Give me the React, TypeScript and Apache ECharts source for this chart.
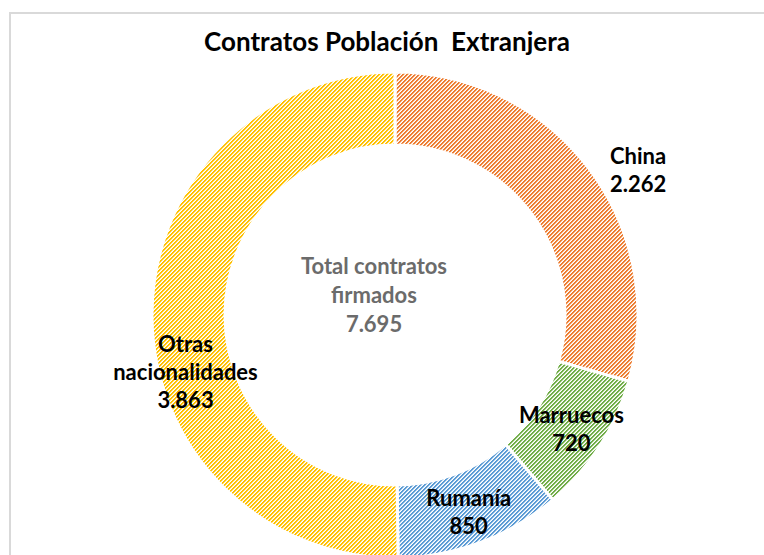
import React, { useEffect, useRef } from "react";
import * as echarts from "echarts";

const categories = ["China", "Marruecos", "Rumanía", "Otras nacionalidades"];
const values = [2262, 720, 850, 3863];
const colors = ["#ED7D31", "#70AD47", "#5B9BD5", "#FFC000"];
const titleText = "Contratos Población  Extranjera";
const centerLabel = "Total contratos\nfirmados";

const fmt = (v: number) => String(v).replace(/\B(?=(\d{3})+(?!\d))/g, ".");

function makePattern(color: string) {
  const s = 4;
  const c = document.createElement("canvas");
  c.width = s;
  c.height = s;
  const ctx = c.getContext("2d")!;
  ctx.fillStyle = "#ffffff";
  ctx.fillRect(0, 0, s, s);
  for (let y = 0; y < s; y++) {
    for (let x = 0; x < s; x++) {
      const m = (x + y) % s;
      if (m === 0 || m === 1) {
        ctx.globalAlpha = 1;
        ctx.fillStyle = color;
        ctx.fillRect(x, y, 1, 1);
      } else if (m === 2) {
        ctx.globalAlpha = 0.3;
        ctx.fillStyle = color;
        ctx.fillRect(x, y, 1, 1);
      }
    }
  }
  ctx.globalAlpha = 1;
  return c;
}

export default function App() {
  const ref = useRef<HTMLDivElement>(null);
  useEffect(() => {
    if (!ref.current) return;
    const chart = echarts.init(ref.current, undefined, { renderer: "svg" });
    const total = values.reduce((a, b) => a + b, 0);
    const shifts = [
      [76, -19],
      [0, 0],
      [0, 0],
      [0, 55],
    ];
    chart.setOption({
      animation: false,
      backgroundColor: "#ffffff",
      title: {
        text: titleText,
        left: 382,
        top: 23,
        textAlign: "center",
        textStyle: {
          fontFamily: "Lato",
          fontSize: 26,
          fontWeight: "bold",
          color: "#000000",
        },
      },
      graphic: [
        {
          type: "rect",
          shape: { x: 10, y: 13, width: 800, height: 600 },
          style: { fill: "none", stroke: "#d9d9d9", lineWidth: 2 },
          silent: true,
        },
        {
          type: "text",
          x: 374,
          y: 294,
          style: {
            text: centerLabel + "\n" + fmt(total),
            textAlign: "center",
            textVerticalAlign: "middle",
            fill: "#6b6b6b",
            fontFamily: "Lato",
            fontSize: 22,
            fontWeight: "bold",
            lineHeight: 29,
          },
          silent: true,
        },
      ],
      series: [
        {
          type: "pie",
          center: [395, 315],
          radius: [170, 243],
          startAngle: 90,
          clockwise: true,
          avoidLabelOverlap: false,
          emphasis: { disabled: true },
          itemStyle: { borderColor: "#ffffff", borderWidth: 3 },
          label: {
            show: true,
            position: "inside",
            color: "#000000",
            fontFamily: "Lato",
            fontSize: 22,
            fontWeight: "bold",
            lineHeight: 28,
            align: "center",
            formatter: (p: any) => p.name.replace(" ", "\n") + "\n" + fmt(p.value),
          },
          labelLine: { show: false },
          labelLayout: (p: any) => ({ dx: shifts[p.dataIndex][0], dy: shifts[p.dataIndex][1] }),
          data: categories.map((name, i) => ({
            name,
            value: values[i],
            itemStyle: {
              color: { image: makePattern(colors[i]), repeat: "repeat" },
            },
          })),
        },
      ],
    });
    return () => chart.dispose();
  }, []);
  return (
    <div
      ref={ref}
      style={{ position: "fixed", left: 0, top: 0, width: 764, height: 555 }}
    />
  );
}
